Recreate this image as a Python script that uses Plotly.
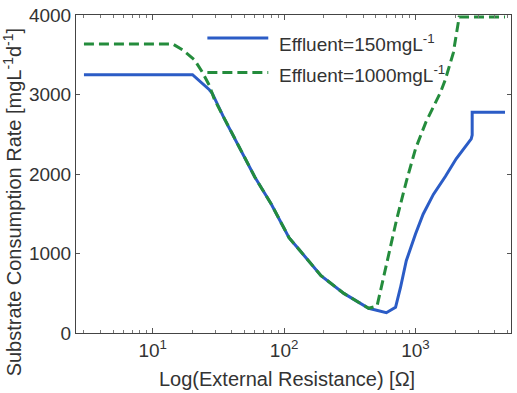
import plotly.graph_objects as go
import numpy as np

# External resistance (Ohm) and substrate consumption rate (mg L^-1 d^-1)
r_150 = [3, 20.1, 27, 28.5, 35, 46, 60, 80, 109, 130, 191, 285, 440, 600, 705, 769,
         851, 1000, 1143, 1368, 1687, 2040, 2655, 2700, 2700, 4800]
rate_150 = [3250, 3250, 3060, 3010, 2700, 2320, 1960, 1620, 1200, 1050, 722, 498, 311, 255, 324, 573,
            909, 1245, 1494, 1743, 1968, 2192, 2441, 2490, 2777, 2777]

r_1000 = [3, 14.2, 16.9, 20.8, 24, 27, 29.5, 35, 46, 60, 80, 109, 130, 191, 285, 440, 510,
          600, 717, 851, 1000, 1200, 1550, 1687, 1940, 2150, 4800]
rate_1000 = [3636, 3636, 3562, 3437, 3275, 3113, 2939, 2700, 2320, 1960, 1620, 1200, 1050, 722, 498, 311, 340,
             850, 1420, 1905, 2316, 2653, 3026, 3188, 3524, 3975, 3975]

legend_labels = ["Effluent=150mgL<sup>-1</sup>", "Effluent=1000mgL<sup>-1</sup>"]
x_tickvals = [10, 100, 1000]
x_ticktext = ["10<sup>1</sup>", "10<sup>2</sup>", "10<sup>3</sup>"]
y_tickvals = [0, 1000, 2000, 3000, 4000]

BLUE = "#2b5cc6"
GREEN = "#248c3c"
TXT = "#333333"
FONT = "Liberation Sans, Arial, Helvetica, sans-serif"

fig = go.Figure()
fig.add_trace(go.Scatter(x=r_150, y=rate_150, mode="lines",
                         line=dict(color=BLUE, width=3), showlegend=False))
fig.add_trace(go.Scatter(x=r_1000, y=rate_1000, mode="lines",
                         line=dict(color=GREEN, width=3, dash="10px,5px"), showlegend=False))

# custom legend (paper coordinates)
leg = [(0.928, 0.913, BLUE, "solid"), (0.819, 0.813, GREEN, "10px,5px")]
for (ly, ty, col, dash), lab in zip(leg, legend_labels):
    fig.add_shape(type="line", xref="paper", yref="paper", x0=0.302, x1=0.442, y0=ly, y1=ly,
                  line=dict(color=col, width=3, dash=dash))
    fig.add_annotation(xref="paper", yref="paper", x=0.461, y=ty, xanchor="left", yanchor="middle",
                       text=lab, showarrow=False, font=dict(size=19, color=TXT, family=FONT))

fig.add_annotation(xref="paper", yref="paper", x=-0.147, y=0.411, textangle=-90,
                   xanchor="center", yanchor="middle", showarrow=False,
                   text="Substrate Consumption Rate [mgL<sup>-1</sup>d<sup>-1</sup>]",
                   font=dict(size=20, color=TXT, family=FONT))
fig.add_annotation(xref="paper", yref="paper", x=0.484, y=-0.146,
                   xanchor="center", yanchor="middle", showarrow=False,
                   text="Log(External Resistance) [Ω]",
                   font=dict(size=20, color=TXT, family=FONT))

fig.update_xaxes(type="log", range=[np.log10(2.61), np.log10(5330)],
                 tickvals=x_tickvals, ticktext=x_ticktext,
                 ticks="inside", ticklen=5, tickcolor="#555", tickwidth=1,
                 minor=dict(ticks="inside", ticklen=3, tickcolor="#777", dtick="D1", showgrid=False),
                 showline=True, linecolor="#444", linewidth=1, mirror="ticks",
                 showgrid=False, zeroline=False,
                 tickfont=dict(size=19, color=TXT, family=FONT))
fig.update_yaxes(range=[0, 4000], tickvals=y_tickvals,
                 ticks="inside", ticklen=4, tickcolor="#555", tickwidth=1,
                 showline=True, linecolor="#444", linewidth=1, mirror="ticks",
                 showgrid=False, zeroline=False,
                 tickfont=dict(size=19, color=TXT, family=FONT))

fig.update_layout(width=517, height=393, margin=dict(l=76, r=5, t=12, b=60),
                  paper_bgcolor="white", plot_bgcolor="white",
                  font=dict(family=FONT, color=TXT))

fig.write_html("out.html")
